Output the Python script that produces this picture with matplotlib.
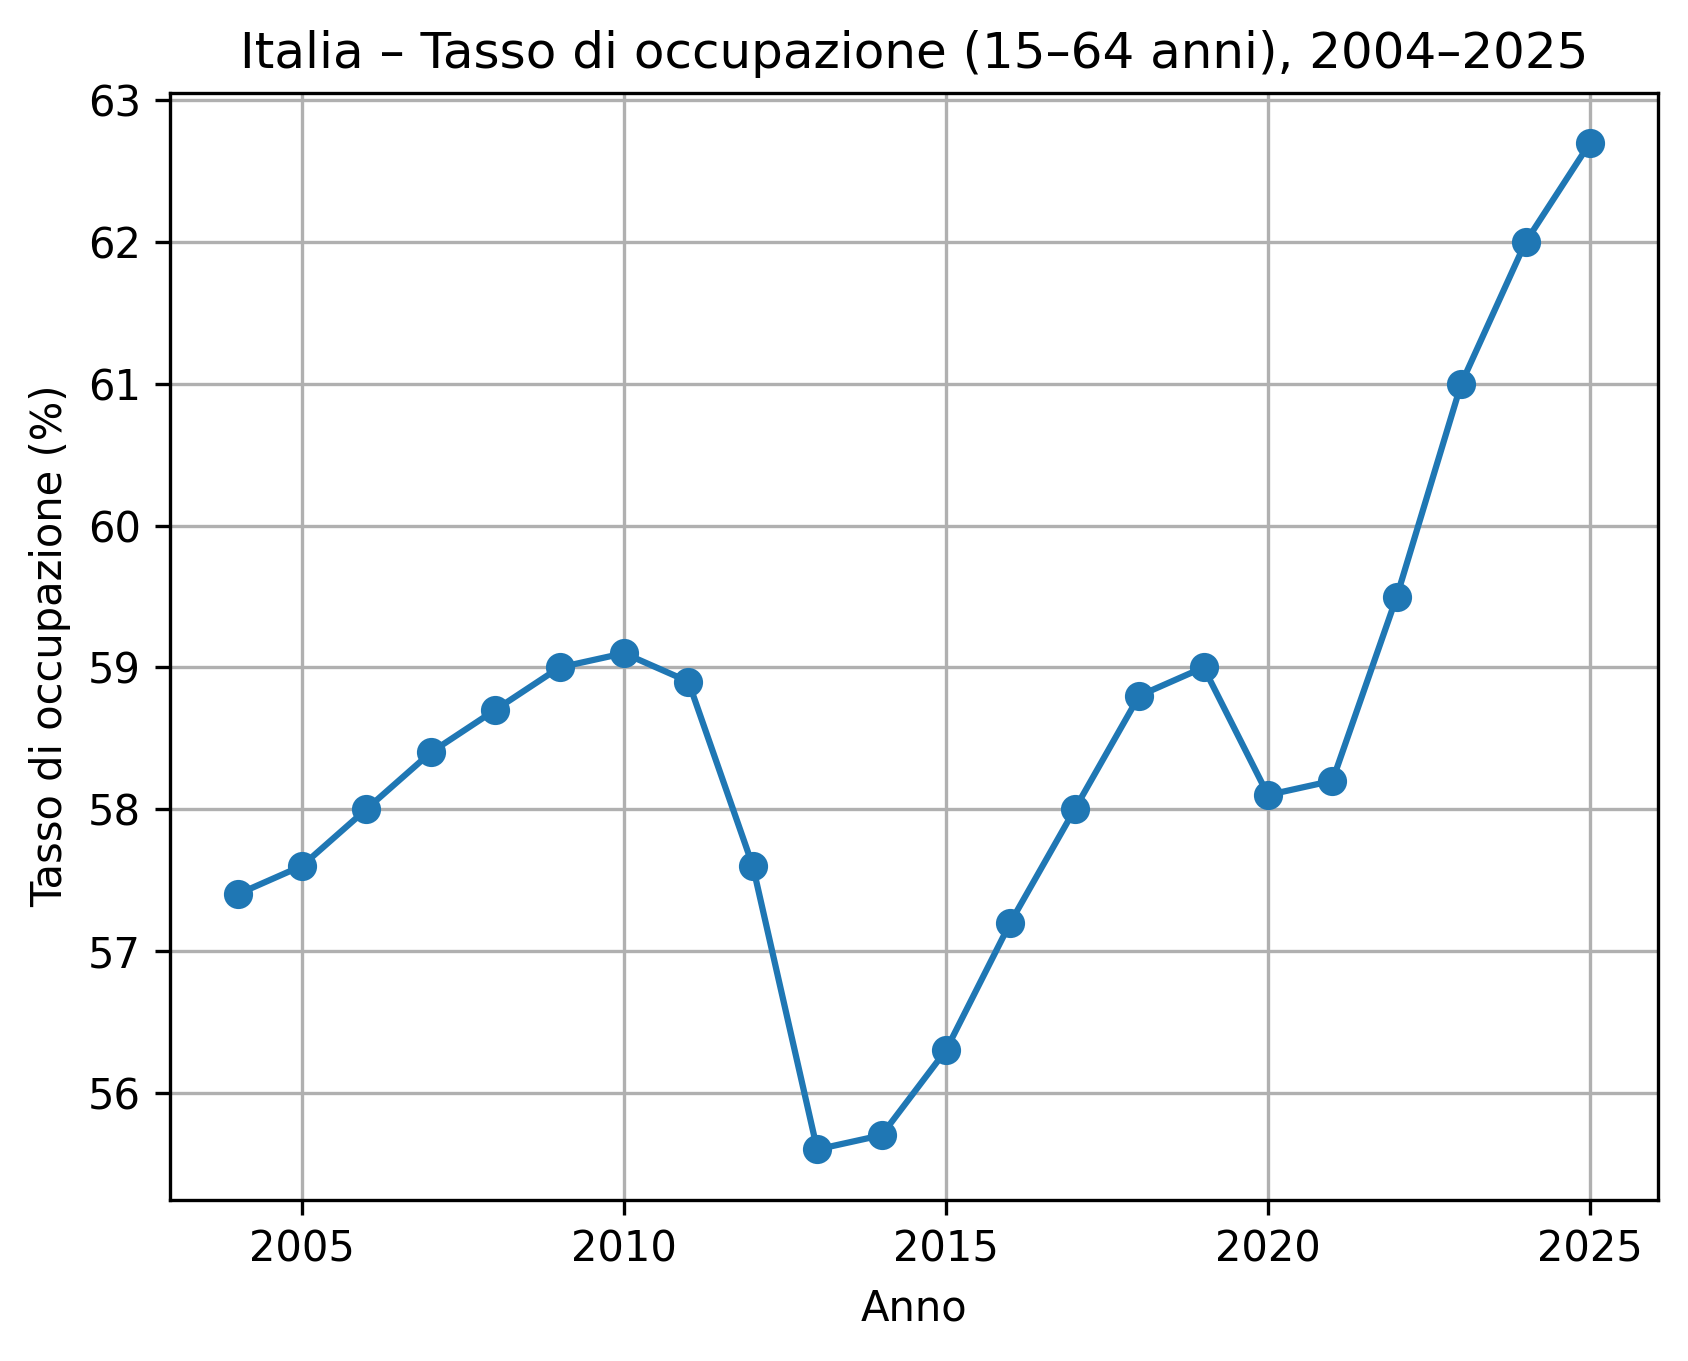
import matplotlib
matplotlib.use('Agg')
import matplotlib.pyplot as plt

# Tasso di occupazione 15-64 anni
anni = [2004, 2005, 2006, 2007, 2008, 2009, 2010, 2011, 2012, 2013, 2014,
        2015, 2016, 2017, 2018, 2019, 2020, 2021, 2022, 2023, 2024, 2025]
tasso = [57.4, 57.6, 58.0, 58.4, 58.7, 59.0, 59.1, 58.9, 57.6, 55.6, 55.7,
         56.3, 57.2, 58.0, 58.8, 59.0, 58.1, 58.2, 59.5, 61.0, 62.0, 62.7]

fig = plt.figure(figsize=(1688 / 300, 1361 / 300), dpi=300)
ax = fig.add_axes([0.1007, 0.1185, 0.8813, 0.8135])
ax.plot(anni, tasso, marker='o')
ax.set_title('Italia – Tasso di occupazione (15–64 anni), 2004–2025')
ax.set_xlabel('Anno')
ax.set_ylabel('Tasso di occupazione (%)')
ax.grid(True)

fig.savefig('out.png', dpi=300)
